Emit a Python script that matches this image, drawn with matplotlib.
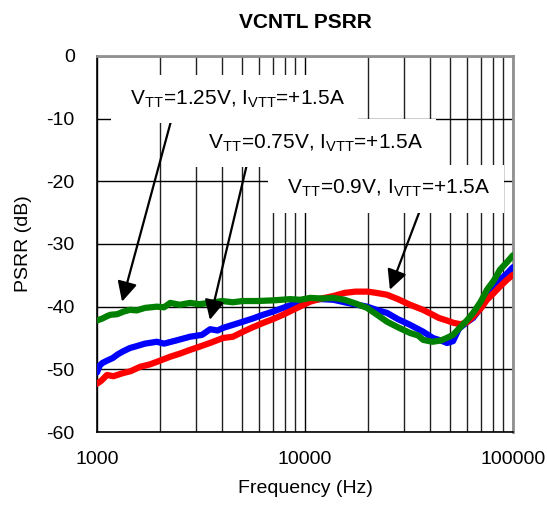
import matplotlib
matplotlib.use('Agg')
from matplotlib import pyplot as plt
from matplotlib.ticker import FixedLocator, NullFormatter

matplotlib.rcParams['font.family'] = ['Liberation Sans', 'DejaVu Sans']
matplotlib.rcParams['mathtext.fontset'] = 'custom'
matplotlib.rcParams['mathtext.rm'] = 'Liberation Sans'
matplotlib.rcParams['mathtext.it'] = 'Liberation Sans'
matplotlib.rcParams['axes.unicode_minus'] = False

# VTT = 0.75V (blue)
blue_f = [1000, 1030, 1060, 1120, 1190, 1260, 1340, 1440, 1550, 1700, 1940,
          2100, 2400, 2800, 3200, 3500, 3800, 4030, 4500, 5030, 5600, 6280,
          7000, 7830, 9160, 10600, 12000, 13700, 16000, 19900, 22000, 24800,
          28000, 32000, 37000, 41200, 45000, 48200, 51500, 55000, 60000,
          64300, 70000, 75000, 81000, 86600, 93000, 100000]
blue_db = [-50.5, -49.4, -49.0, -48.6, -48.2, -47.6, -47.1, -46.6, -46.3,
           -45.9, -45.6, -45.9, -45.4, -44.8, -44.5, -43.6, -43.8, -43.4,
           -42.9, -42.4, -41.9, -41.3, -40.8, -40.2, -39.4, -38.9, -38.8,
           -38.9, -39.4, -40.0, -40.5, -41.0, -42.0, -42.9, -44.0, -45.0,
           -45.4, -45.8, -45.5, -43.5, -42.5, -41.8, -40.2, -38.6, -37.2,
           -35.7, -34.8, -33.7]

# VTT = 0.9V (red)
red_f = [1000, 1050, 1117, 1200, 1334, 1450, 1611, 1800, 1942, 2244, 2500,
         2800, 3100, 3491, 4034, 4500, 5035, 5600, 6282, 7000, 7834, 9160,
         10600, 12000, 13700, 15500, 17500, 20000, 22000, 24800, 28000,
         32000, 36900, 41200, 44000, 48000, 52000, 56000, 60000, 64300,
         70000, 75000, 81000, 86600, 93000, 100000]
red_db = [-52.3, -51.8, -50.9, -51.1, -50.6, -50.3, -49.6, -49.2, -48.8,
          -48.0, -47.5, -46.9, -46.4, -45.8, -45.0, -44.8, -44.0, -43.3,
          -42.6, -42.0, -41.3, -40.2, -39.2, -38.7, -38.3, -37.8, -37.6,
          -37.6, -37.8, -38.1, -38.8, -39.7, -40.5, -41.3, -41.8, -42.2,
          -42.6, -42.8, -42.5, -41.6, -40.3, -38.9, -37.8, -36.8, -35.8,
          -34.9]

# VTT = 1.25V (green)
green_f = [1000, 1060, 1120, 1160, 1250, 1340, 1440, 1550, 1700, 1940, 2100,
           2250, 2500, 2800, 3100, 3500, 4000, 4500, 5000, 5900, 7000, 8500,
           9500, 10600, 12000, 13700, 15500, 17500, 19900, 22000, 24800,
           28000, 32000, 35000, 37000, 41000, 45000, 48000, 51500, 55000,
           60000, 64300, 70000, 75000, 81000, 86600, 93000, 100000]
green_db = [-42.2, -41.9, -41.5, -41.3, -41.2, -40.8, -40.5, -40.6, -40.2,
            -40.0, -40.1, -39.4, -39.7, -39.4, -39.6, -39.4, -39.1, -39.3,
            -39.1, -39.1, -39.0, -38.8, -38.9, -38.6, -38.7, -38.6, -38.9,
            -39.5, -40.2, -41.2, -42.4, -43.3, -44.2, -44.6, -45.3, -45.6,
            -45.4, -45.0, -44.5, -43.5, -42.2, -41.0, -39.2, -37.3, -35.8,
            -34.1, -33.0, -31.8]

labels = [r'V$_{\mathrm{TT}}$=1.25V, I$_{\mathrm{VTT}}$=+1.5A',
          r'V$_{\mathrm{TT}}$=0.75V, I$_{\mathrm{VTT}}$=+1.5A',
          r'V$_{\mathrm{TT}}$=0.9V, I$_{\mathrm{VTT}}$=+1.5A']
# label text centre, arrow start, arrow tip (freq, dB)
label_pos = [(4600, -6.9), (10900, -13.9), (24500, -21.2)]
arrow_from = [(2290, -9.9), (5320, -16.6), (36500, -23.8)]
arrow_to = [(1320, -39.2), (3490, -42.1), (25600, -37.3)]

fig = plt.figure(figsize=(5.47, 5.08), dpi=100)
ax = fig.add_axes([0.1773, 0.1496, 0.7605, 0.7402])

ax.plot(blue_f, blue_db, color='#0000ff', lw=4.5, zorder=3, solid_capstyle='round')
ax.plot(red_f, red_db, color='#ff0000', lw=4.5, zorder=3, solid_capstyle='round')
ax.plot(green_f, green_db, color='#008000', lw=4.5, zorder=3, solid_capstyle='round')

ax.set_xscale('log')
ax.set_xlim(1000, 100000)
ax.set_ylim(-60, 0)
ax.set_yticks(range(-60, 1, 10))
ax.xaxis.set_major_locator(FixedLocator([1000, 10000, 100000]))
ax.set_xticklabels(['1000', '10000', '100000'])
ax.xaxis.set_minor_locator(FixedLocator([m * d for d in (1000, 10000) for m in range(2, 10)]))
ax.xaxis.set_minor_formatter(NullFormatter())

ax.grid(True, which='major', color='black', lw=1.0, zorder=1)
ax.grid(True, which='minor', axis='x', color='#202020', lw=1.0, zorder=1)
ax.set_axisbelow(True)
ax.tick_params(which='both', length=0, labelsize=14)
ax.tick_params(axis='y', pad=16)
ax.tick_params(axis='x', pad=14)

for side in ('top', 'right'):
    ax.spines[side].set_color('#909090')
    ax.spines[side].set_linewidth(2)
for side in ('left', 'bottom'):
    ax.spines[side].set_color('black')
    ax.spines[side].set_linewidth(1.2)

for start, tip in zip(arrow_from, arrow_to):
    ax.annotate('', xy=tip, xytext=start, zorder=4,
                arrowprops=dict(arrowstyle='-|>', color='black', lw=1.6,
                                mutation_scale=30, shrinkA=0, shrinkB=0))

for txt, pos in zip(labels, label_pos):
    ax.text(pos[0], pos[1], ' ' + txt + ' ', fontsize=15, ha='center', va='center',
            zorder=5, bbox=dict(boxstyle='square,pad=0.65', fc='white', ec='none'))

ax.set_title('VCNTL PSRR', fontsize=15, fontweight='bold', pad=20)
ax.set_xlabel('Frequency (Hz)', fontsize=14, labelpad=8)
ax.set_ylabel('PSRR (dB)', fontsize=14, labelpad=10)

fig.savefig('out.png', dpi=100)
